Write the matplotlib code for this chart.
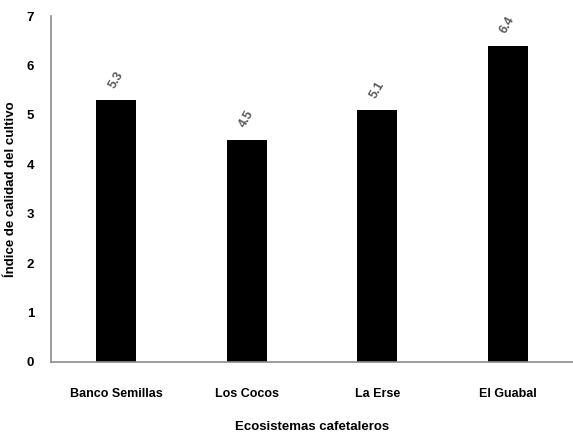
import matplotlib
matplotlib.use("Agg")
import matplotlib.pyplot as plt

# datos del gráfico
categorias = ["Banco Semillas", "Los Cocos", "La Erse", "El Guabal"]
valores = [5.3, 4.5, 5.1, 6.4]
etiquetas = ["5.3", "4.5", "5.1", "6.4"]

plt.rcParams["font.family"] = ["Liberation Sans", "DejaVu Sans"]

fig = plt.figure(figsize=(5.73, 4.34), dpi=100)
ax = fig.add_axes([0.089, 0.166, 0.911, 0.797])

x = range(len(categorias))
ax.bar(x, valores, width=0.31, color="black")

for xi, v, t in zip(x, valores, etiquetas):
    ax.annotate(t, (xi, v), xytext=(0, 7), textcoords="offset points",
                ha="center", va="bottom", rotation=60, color="#595959",
                fontsize=9, fontweight="bold")

ax.set_xlim(-0.5, 3.5)
ax.set_ylim(0, 7)
ax.set_xticks(list(x))
ax.set_xticklabels(categorias, fontsize=9, fontweight="bold")
ax.set_yticks(range(0, 8))
ax.set_yticklabels([str(i) for i in range(8)], fontsize=9.5, fontweight="bold")
ax.tick_params(axis="both", length=0)
ax.tick_params(axis="x", pad=19)
ax.tick_params(axis="y", pad=12)

for s in ["top", "right"]:
    ax.spines[s].set_visible(False)
for s in ["left", "bottom"]:
    ax.spines[s].set_color("#8c8c8c")
    ax.spines[s].set_linewidth(1.2)

ax.set_xlabel("Ecosistemas cafetaleros", fontsize=9.5, fontweight="bold")
ax.set_ylabel("Índice de calidad del cultivo", fontsize=9.5, fontweight="bold")
ax.xaxis.set_label_coords(0.5, -0.17)
ax.yaxis.set_label_coords(-0.066, 0.5)

fig.savefig("out.png", dpi=100)
